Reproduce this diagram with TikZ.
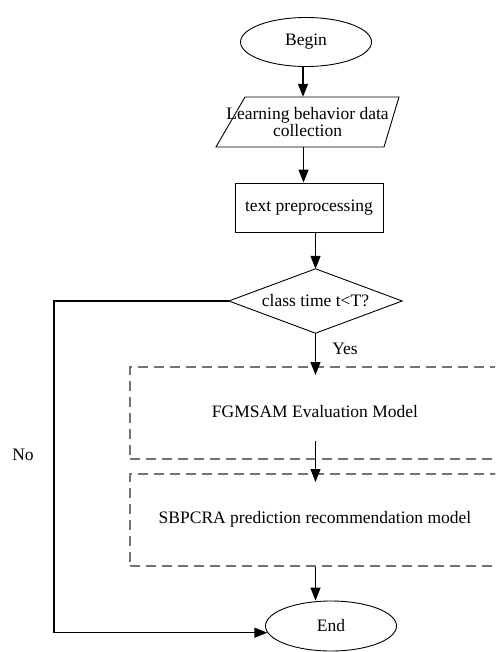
\documentclass[tikz,border=0pt]{standalone}
\usepackage{fontspec}
\setmainfont{Liberation Serif}
\usetikzlibrary{shapes.geometric,arrows.meta}
\begin{document}
\begin{tikzpicture}[x=1pt,y=-1pt,
  every node/.style={font=\fontsize{17.5}{17}\selectfont},
  term/.style={ellipse,draw,line width=0.9pt,minimum width=131pt,minimum height=49pt,inner sep=0pt},
  procbox/.style={rectangle,draw,line width=0.9pt,minimum width=148pt,minimum height=49pt,inner sep=0pt},
  ghost/.style={inner sep=0pt,align=center},
  shapeline/.style={line width=0.9pt},
  dbox/.style={draw=black!55,dash pattern=on 10pt off 6pt,line width=1.8pt,anchor=north west,inner sep=0pt},
  flow/.style={line width=1.3pt,-{Triangle[length=13pt,width=10pt]}}]
\useasboundingbox (0,0) rectangle (495,652);
\clip (0,0) rectangle (495,652);

% terminals and process
\node[term] (begin) at (306,42) {Begin};
\node[ghost,minimum width=183pt,minimum height=50pt] (data) at (307.5,122) {Learning behavior data\\collection};
\draw[shapeline] (245,97) -- (399,97) -- (384,147) -- (216,147) -- cycle;
\node[procbox] (proc) at (309,207.5) {text preprocessing};
\node[ghost,minimum width=173pt,minimum height=64pt] (dec) at (315.5,301) {class time t<T?};
\draw[shapeline] (dec.west) -- (dec.north) -- (dec.east) -- (dec.south) -- cycle;

% dashed model boxes
\node[dbox,minimum width=371pt,minimum height=92pt] (box1) at (129,366) {};
\node[dbox,minimum width=371pt,minimum height=92pt] (box2) at (129,473) {};
\node (fg) at (315,412) {FGMSAM Evaluation Model};
\node (sb) at (315,519) {SBPCRA prediction recommendation model};

\node[term,minimum width=131pt,minimum height=50pt] (End) at (331,626) {End};

% labels
\node (yes) at (345,349) {Yes};
\node (no) at (23,455) {No};

% helper coordinates
\coordinate (yesend) at (315.5,375);
\coordinate (m1) at (315.5,441);
\coordinate (m2) at (315.5,482);
\coordinate (nox) at (54,0);

% connectors
\draw[flow] ([xshift=-3pt]begin.south) -- ([xshift=-3pt]begin.south |- data.north);
\draw[flow] ([xshift=-4pt]data.south) -- ([xshift=-4pt]data.south |- proc.north);
\draw[flow] (dec.north |- proc.south) -- (dec.north);
\draw[flow] (dec.south) -- (yesend);
\draw[flow] (m1) -- (m2);
\draw[flow] (box2.south -| dec.south) -- (End.north -| dec.south);
\draw[flow] (dec.west) -- (dec.west -| nox) |- (End.186);
\end{tikzpicture}
\end{document}
